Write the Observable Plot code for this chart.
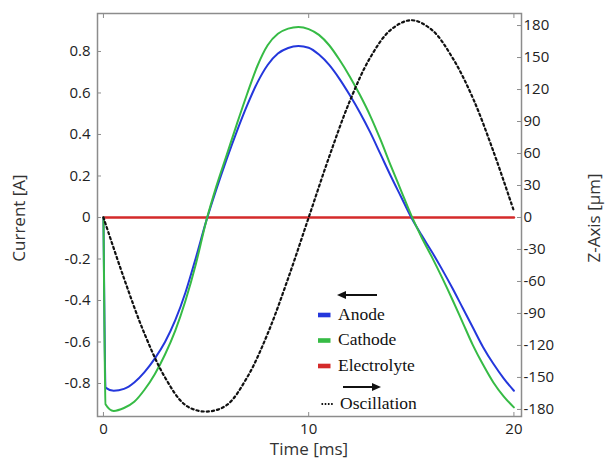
<!DOCTYPE html>
<html><head><meta charset="utf-8">
<script src="https://cdn.jsdelivr.net/npm/d3@7"></script>
<script src="https://cdn.jsdelivr.net/npm/@observablehq/plot@0.6"></script>
<style>body{margin:0;background:#fff}#chart{position:relative;width:608px;height:459px}</style>
</head><body><div id="chart"></div>
<script>
// ---- data ----
const timeMs   = [0, 0.05, 0.1, 0.5, 1, 1.5, 2, 2.5, 3, 3.5, 4, 4.5, 5, 5.5, 6, 6.5, 7, 7.5, 8, 8.5, 9, 9.5, 10, 10.5, 11, 11.5, 12, 12.5, 13, 13.5, 14, 14.5, 15, 15.5, 16, 16.5, 17, 17.5, 18, 18.5, 19, 19.5, 20];
const anodeA   = [0, -0.5, -0.82, -0.835, -0.826, -0.795, -0.745, -0.68, -0.6, -0.495, -0.36, -0.195, -0.02, 0.135, 0.28, 0.415, 0.54, 0.65, 0.735, 0.79, 0.817, 0.826, 0.818, 0.785, 0.735, 0.668, 0.59, 0.505, 0.41, 0.305, 0.2, 0.1, 0, -0.085, -0.165, -0.25, -0.34, -0.435, -0.53, -0.625, -0.705, -0.775, -0.835];
const cathodeA = [0, -0.55, -0.9, -0.932, -0.918, -0.888, -0.83, -0.755, -0.66, -0.545, -0.4, -0.225, -0.02, 0.15, 0.3, 0.45, 0.595, 0.73, 0.83, 0.885, 0.91, 0.918, 0.908, 0.88, 0.83, 0.76, 0.68, 0.59, 0.49, 0.375, 0.25, 0.13, 0.01, -0.095, -0.19, -0.29, -0.395, -0.505, -0.615, -0.71, -0.795, -0.862, -0.915];
const electrolyteTime = [0, 20];
const electrolyteA    = [0, 0];
const oscTimeMs = [0, 1, 2, 3, 4, 5, 6, 7, 8, 9, 10, 11, 12, 13, 14, 15, 16, 17, 18, 19, 20];
const oscUm     = [0, -57, -109, -150, -176, -182, -176, -150, -109, -57, 0, 57, 109, 150, 176, 185, 176, 150, 112, 62, 6];
const leftTicks  = [-0.8, -0.6, -0.4, -0.2, 0, 0.2, 0.4, 0.6, 0.8];
const rightTicks = [-180, -150, -120, -90, -60, -30, 0, 30, 60, 90, 120, 150, 180];
const xTicks = [0, 10, 20];
const seriesNames = ["Anode", "Cathode", "Electrolyte", "Oscillation"];

// right axis (µm) shares the vertical scale: 180 µm sits at 0.925 A
const K = 0.925 / 180;

const BLUE = "#2437dc", GREEN = "#36bb45", RED = "#d42a2a", FRAME = "#8c8c8c";

const anode = timeMs.map((t, i) => ({t, v: anodeA[i]}));
const cathode = timeMs.map((t, i) => ({t, v: cathodeA[i]}));
const electrolyte = electrolyteTime.map((t, i) => ({t, v: electrolyteA[i]}));
const osc = oscTimeMs.map((t, i) => ({t, z: oscUm[i]}));

const svg = Plot.plot({
  width: 608, height: 459,
  marginLeft: 97, marginRight: 87, marginTop: 13, marginBottom: 43,
  x: {domain: [-0.29, 20.37]},
  y: {domain: [-0.959, 0.983]},
  style: {fontFamily: "'Open Sans', sans-serif", fontSize: "15px", color: "#222", background: "#fff"},
  marks: [
    Plot.line(electrolyte, {x: "t", y: "v", stroke: RED, strokeWidth: 2.6}),
    Plot.line(anode, {x: "t", y: "v", stroke: BLUE, strokeWidth: 2, curve: "monotone-x"}),
    Plot.line(cathode, {x: "t", y: "v", stroke: GREEN, strokeWidth: 2, curve: "monotone-x"}),
    Plot.line(osc, {x: "t", y: d => d.z * K, stroke: "#111", strokeWidth: 2.2, strokeDasharray: "2.2,3", curve: "catmull-rom"}),
    Plot.frame({stroke: FRAME, strokeWidth: 1.5}),
    // inward ticks
    Plot.axisY(leftTicks, {anchor: "left", label: null, tickSize: 4, dx: 4, tickFormat: () => "", stroke: FRAME}),
    Plot.axisY(rightTicks.map(z => z * K), {anchor: "right", label: null, tickSize: 5, dx: -5, tickFormat: () => "", stroke: FRAME}),
    Plot.axisX(xTicks, {anchor: "bottom", label: null, tickSize: 4, dy: -4, tickFormat: () => "", stroke: FRAME}),
    Plot.axisX(xTicks, {anchor: "top", label: null, tickSize: 4, dy: 4, tickFormat: () => "", stroke: FRAME}),
    // labels
    Plot.axisY(leftTicks, {anchor: "left", label: null, tickSize: 0, tickPadding: 7, tickFormat: d => String(d), fill: "#222"}),
    Plot.axisY(rightTicks.map(z => z * K), {anchor: "right", label: null, tickSize: 0, tickPadding: 2, tickFormat: d => String(Math.round(d / K)), fill: "#222"}),
    Plot.axisX(xTicks, {anchor: "bottom", label: null, tickSize: 0, tickPadding: 7, tickFormat: d => String(d), fill: "#222"})
  ]
});
document.getElementById("chart").appendChild(svg);

const s = d3.select(svg);
const sans = "'Open Sans', sans-serif";
s.append("text").attr("transform", "translate(18,218) rotate(-90)")
  .attr("text-anchor", "middle").attr("dominant-baseline", "central")
  .style("font-family", sans).style("font-size", "17px").attr("fill", "#333").text("Current [A]");
s.append("text").attr("transform", "translate(593,218) rotate(-90)")
  .attr("text-anchor", "middle").attr("dominant-baseline", "central")
  .style("font-family", sans).style("font-size", "17px").attr("fill", "#333").text("Z-Axis [µm]");
s.append("text").attr("x", 309).attr("y", 455).attr("text-anchor", "middle")
  .style("font-family", sans).style("font-size", "17px").attr("fill", "#333").text("Time [ms]");

// legend
const lg = s.append("g").attr("text-anchor", "start")
  .style("font-family", "'Liberation Serif', 'Times New Roman', serif").style("font-size", "17.5px").attr("fill", "#111");
lg.append("line").attr("x1", 344).attr("x2", 377).attr("y1", 295).attr("y2", 295).attr("stroke", "#111").attr("stroke-width", 2);
lg.append("path").attr("d", "M337,295 L346,291 L346,299 Z").attr("fill", "#111");
const rows = [{name: seriesNames[0], c: BLUE, y: 315}, {name: seriesNames[1], c: GREEN, y: 340.5}, {name: seriesNames[2], c: RED, y: 366}];
rows.forEach(r => {
  lg.append("rect").attr("x", 318).attr("y", r.y - 2.3).attr("width", 12.5).attr("height", 4.6).attr("fill", r.c);
  lg.append("text").attr("x", 338).attr("y", r.y + 4.5).attr("text-anchor", "start").text(r.name);
});
lg.append("line").attr("x1", 343).attr("x2", 374).attr("y1", 387).attr("y2", 387).attr("stroke", "#111").attr("stroke-width", 2);
lg.append("path").attr("d", "M381,387 L372,383 L372,391 Z").attr("fill", "#111");
lg.append("line").attr("x1", 321.5).attr("x2", 334).attr("y1", 404).attr("y2", 404).attr("stroke", "#111").attr("stroke-width", 1.8).attr("stroke-dasharray", "1.6,1.6");
lg.append("text").attr("x", 340).attr("y", 408.5).attr("text-anchor", "start").text(seriesNames[3]);
</script>
</body></html>
